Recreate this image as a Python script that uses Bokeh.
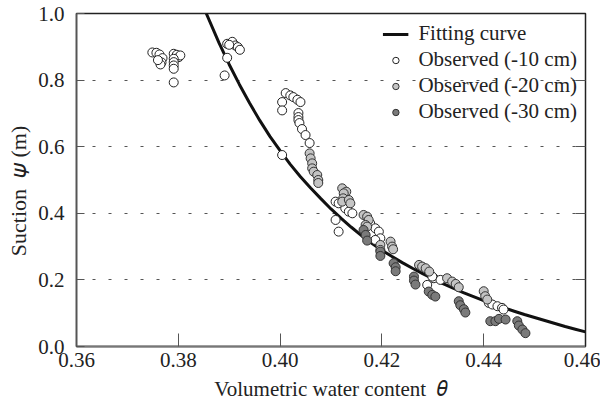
from bokeh.plotting import figure
from bokeh.models import Range1d, LinearAxis, FixedTicker, Legend, LegendItem
from bokeh.embed import file_html
from bokeh.resources import INLINE

# Fitting curve
fit_theta = [0.3855, 0.388, 0.390, 0.392, 0.394, 0.396, 0.398, 0.400, 0.402, 0.404, 0.406, 0.408,
             0.410, 0.412, 0.414, 0.416, 0.418, 0.420, 0.422, 0.424, 0.426, 0.428, 0.430, 0.432,
             0.434, 0.436, 0.438, 0.440, 0.442, 0.444, 0.446, 0.448, 0.450, 0.452, 0.454, 0.456,
             0.458, 0.460]
fit_psi = [1.000, 0.912, 0.847, 0.787, 0.731, 0.679, 0.631, 0.588, 0.547, 0.510, 0.476, 0.444,
           0.413, 0.385, 0.358, 0.333, 0.310, 0.289, 0.270, 0.252, 0.235, 0.219, 0.204, 0.189,
           0.175, 0.162, 0.150, 0.138, 0.127, 0.116, 0.106, 0.096, 0.087, 0.078, 0.069, 0.060,
           0.052, 0.044]

# Observed (-10 cm)
obs10_theta = [0.3749, 0.3757, 0.3763, 0.3769, 0.3767, 0.3765, 0.3760,
               0.3791, 0.3797, 0.3801, 0.3804, 0.3791, 0.3791, 0.3791, 0.3791, 0.3791,
               0.3896, 0.3906, 0.3912, 0.3917, 0.3921, 0.3900, 0.3896, 0.3891,
               0.4011, 0.4020, 0.4026, 0.4034, 0.4040, 0.4004, 0.4004, 0.4036, 0.4036, 0.4036,
               0.4038, 0.4043, 0.4050, 0.4058, 0.4004,
               0.4109, 0.4115, 0.4128, 0.4135, 0.4142, 0.4109, 0.4115,
               0.4177, 0.4187, 0.4194, 0.4197, 0.4187,
               0.4302, 0.4315, 0.4299, 0.4289,
               0.4410, 0.4417, 0.4427, 0.4436, 0.4439]
obs10_psi = [0.883, 0.882, 0.877, 0.866, 0.853, 0.847, 0.860,
             0.879, 0.876, 0.869, 0.874, 0.864, 0.854, 0.844, 0.834, 0.793,
             0.909, 0.915, 0.904, 0.899, 0.891, 0.906, 0.867, 0.814,
             0.761, 0.754, 0.749, 0.741, 0.734, 0.734, 0.709, 0.701, 0.689, 0.680,
             0.671, 0.653, 0.635, 0.611, 0.575,
             0.435, 0.430, 0.415, 0.405, 0.400, 0.380, 0.345,
             0.370, 0.355, 0.345, 0.325, 0.320,
             0.205, 0.200, 0.210, 0.185,
             0.131, 0.126, 0.121, 0.116, 0.111]

# Observed (-20 cm)
obs20_theta = [0.4058, 0.4060, 0.4063, 0.4063, 0.4066, 0.4073, 0.4075, 0.4075,
               0.4122, 0.4130, 0.4125, 0.4124, 0.4122, 0.4135, 0.4138,
               0.4164, 0.4171, 0.4174, 0.4168, 0.4171,
               0.4197, 0.4197, 0.4217, 0.4220, 0.4222,
               0.4273, 0.4279, 0.4286, 0.4293,
               0.4328, 0.4338, 0.4345, 0.4351,
               0.4400, 0.4403, 0.4407]
obs20_psi = [0.580, 0.565, 0.550, 0.535, 0.525, 0.515, 0.500, 0.491,
             0.475, 0.465, 0.460, 0.445, 0.435, 0.440, 0.430,
             0.395, 0.390, 0.380, 0.365, 0.360,
             0.305, 0.290, 0.315, 0.300, 0.292,
             0.245, 0.240, 0.235, 0.225,
             0.205, 0.195, 0.188, 0.178,
             0.166, 0.151, 0.141]

# Observed (-30 cm)
obs30_theta = [0.4164, 0.4168, 0.4171,
               0.4197, 0.4197, 0.4223, 0.4227, 0.4227,
               0.4263, 0.4263, 0.4266,
               0.4292, 0.4299, 0.4305,
               0.4351, 0.4354, 0.4361, 0.4364,
               0.4413, 0.4423, 0.4430, 0.4443, 0.4466, 0.4469, 0.4476, 0.4482]
obs30_psi = [0.350, 0.335, 0.318,
             0.285, 0.272, 0.250, 0.238, 0.226,
             0.210, 0.198, 0.186,
             0.165, 0.155, 0.150,
             0.136, 0.124, 0.112, 0.102,
             0.076, 0.076, 0.083, 0.081, 0.076, 0.063, 0.051, 0.040]

x_ticks = [0.36, 0.38, 0.40, 0.42, 0.44, 0.46]
y_ticks = [0.0, 0.2, 0.4, 0.6, 0.8, 1.0]
grid_ticks = [0.2, 0.4, 0.6, 0.8]

FONT = "Liberation Serif"
TXT = "#222222"

p = figure(width=600, height=403, output_backend="svg", toolbar_location=None,
           x_range=Range1d(0.36, 0.46), y_range=Range1d(0.0, 1.0),
           min_border_left=76, min_border_right=15, min_border_top=13, min_border_bottom=56)
p.background_fill_color = "white"
p.border_fill_color = "white"
p.outline_line_color = "#222222"
p.outline_line_width = 1.5

p.xgrid.visible = False
p.ygrid.ticker = FixedTicker(ticks=grid_ticks)
p.ygrid.grid_line_color = "#555555"
p.ygrid.grid_line_dash = "3 13"
p.ygrid.grid_line_width = 1

xa = p.xaxis[0]
xa.ticker = FixedTicker(ticks=x_ticks)
xa.major_label_overrides = {t: f"{t:.2f}" for t in x_ticks}
xa.major_tick_in = 13
xa.major_tick_out = 0
xa.minor_tick_in = 0
xa.minor_tick_out = 0
xa.axis_line_color = "#777777"
xa.axis_line_width = 2
xa.major_tick_line_color = "#555555"
xa.major_label_text_font = FONT
xa.major_label_text_font_size = "21px"
xa.major_label_text_color = TXT
xa.major_label_standoff = 6
xa.axis_label = "Volumetric water content\u00a0\u00a0\U0001D703"
xa.axis_label_text_font = FONT
xa.axis_label_text_font_size = "21px"
xa.axis_label_text_font_style = "normal"
xa.axis_label_text_color = TXT
xa.axis_label_standoff = 7

ya = p.yaxis[0]
ya.ticker = FixedTicker(ticks=y_ticks)
ya.major_label_overrides = {t: f"{t:.1f}" for t in y_ticks}
ya.major_tick_in = 8
ya.major_tick_out = 0
ya.minor_tick_in = 0
ya.minor_tick_out = 0
ya.axis_line_color = "#555555"
ya.axis_line_width = 1.5
ya.major_tick_line_color = "#555555"
ya.major_label_text_font = FONT
ya.major_label_text_font_size = "21px"
ya.major_label_text_color = TXT
ya.major_label_standoff = 12
ya.axis_label = "Suction\u00a0\u00a0\U0001D713\u00a0(m)\u00a0\u00a0\u00a0\u00a0"
ya.axis_label_text_font = FONT
ya.axis_label_text_font_size = "22px"
ya.axis_label_text_font_style = "normal"
ya.axis_label_text_color = TXT
ya.axis_label_standoff = 4

ra = LinearAxis(ticker=FixedTicker(ticks=grid_ticks),
                major_tick_in=10, major_tick_out=0, minor_tick_in=0, minor_tick_out=0,
                major_label_overrides={t: "" for t in grid_ticks},
                axis_line_color="#222222", major_tick_line_color="#555555")
p.add_layout(ra, "right")

r_fit = p.line(fit_theta, fit_psi, line_color="#111111", line_width=3)
r10 = p.scatter(obs10_theta, obs10_psi, size=9, fill_color="white", line_color="#222222", line_width=1)
r20 = p.scatter(obs20_theta, obs20_psi, size=9, fill_color="#c4c4c4", line_color="#333333", line_width=1)
r30 = p.scatter(obs30_theta, obs30_psi, size=9, fill_color="#7a7a7a", line_color="#333333", line_width=1)

legend = Legend(items=[LegendItem(label="Fitting curve", renderers=[r_fit]),
                       LegendItem(label="Observed (-10 cm)", renderers=[r10]),
                       LegendItem(label="Observed (-20 cm)", renderers=[r20]),
                       LegendItem(label="Observed (-30 cm)", renderers=[r30])],
                location="top_right")
legend.background_fill_alpha = 0
legend.border_line_alpha = 0
legend.label_text_font = FONT
legend.label_text_font_size = "21px"
legend.label_text_color = TXT
legend.glyph_width = 26
legend.glyph_height = 16
legend.label_height = 20
legend.label_standoff = 10
legend.spacing = 1
legend.padding = 4
legend.margin = 4
p.add_layout(legend)

open("out.html", "w").write(file_html(p, INLINE))
